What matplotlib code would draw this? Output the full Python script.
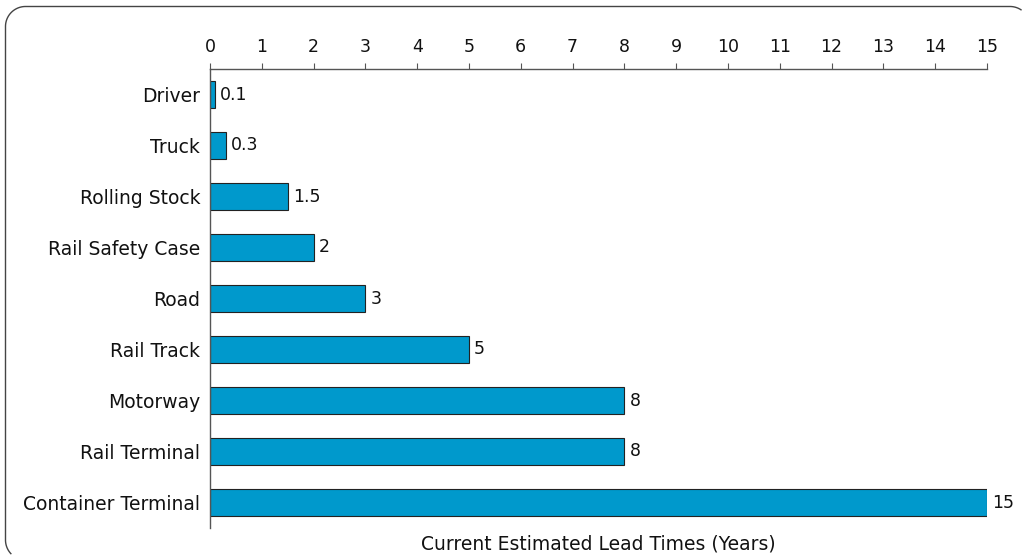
import matplotlib
matplotlib.use("Agg")
import matplotlib.pyplot as plt
import numpy as np

categories = ["Driver", "Truck", "Rolling Stock", "Rail Safety Case", "Road",
              "Rail Track", "Motorway", "Rail Terminal", "Container Terminal"]
values = [0.1, 0.3, 1.5, 2, 3, 5, 8, 8, 15]
value_labels = ["0.1", "0.3", "1.5", "2", "3", "5", "8", "8", "15"]
xticks = list(range(0, 16))
xlabel = "Current Estimated Lead Times (Years)"

plt.rcParams['font.family'] = ['DejaVu Sans']
W, H = 1022, 556
fig = plt.figure(figsize=(W / 100, H / 100), dpi=100)

# background axes in pixel coordinates (y down) for the rounded frame
bg = fig.add_axes([0, 0, 1, 1])
bg.set_xlim(0, W)
bg.set_ylim(H, 0)
bg.axis("off")
x0, x1, yt, yb, r = 5.5, 1030.0, 6.5, 560.0, 20.0

def arc(cx, cy, a0, a1, n=40):
    t = np.radians(np.linspace(a0, a1, n))
    return cx + r * np.cos(t), cy + r * np.sin(t)

segs = [
    arc(x0 + r, yb - r, 135, 180),      # bottom-left corner (partially)
    arc(x0 + r, yt + r, 180, 270),      # top-left corner
    arc(x1 - r, yt + r, 270, 330),      # top-right corner (partially)
]
xs = np.concatenate([segs[0][0], segs[1][0], segs[2][0]])
ys = np.concatenate([segs[0][1], segs[1][1], segs[2][1]])
keep = (xs >= 0) & (xs <= W) & (ys >= 0) & (ys <= H)
bg.plot(xs[keep], ys[keep], color="#444444", linewidth=1.0,
        solid_capstyle="butt", clip_on=False)

ax = fig.add_axes([210 / W, 1 - 528 / H, (987 - 210) / W, (528 - 69) / H])
ax.patch.set_alpha(0)
ypos = list(range(len(categories)))
ax.barh(ypos, values, height=0.53, color="#0099CC", edgecolor="#222222", linewidth=0.8)
for y, v, lab in zip(ypos, values, value_labels):
    ax.text(v + 0.1, y, lab, va="center", ha="left", fontsize=12.5, color="#111111")

ax.set_ylim(len(categories) - 0.5, -0.5)
ax.set_xlim(0, 15)
ax.set_yticks(ypos)
ax.set_yticklabels(categories, fontsize=13.5, color="#111111")
ax.tick_params(axis="y", length=0, pad=7)
ax.xaxis.tick_top()
ax.set_xticks(xticks)
ax.set_xticklabels([str(t) for t in xticks], fontsize=12.5, color="#111111")
ax.tick_params(axis="x", direction="out", length=4, color="#555555", pad=5)
for s in ["right", "bottom"]:
    ax.spines[s].set_visible(False)
for s in ["top", "left"]:
    ax.spines[s].set_color("#555555")
    ax.spines[s].set_linewidth(1.0)

fig.text(598 / W, 1 - 544 / H, xlabel, ha="center", va="center", fontsize=13.5, color="#111111")

fig.savefig("out.png", dpi=100)
